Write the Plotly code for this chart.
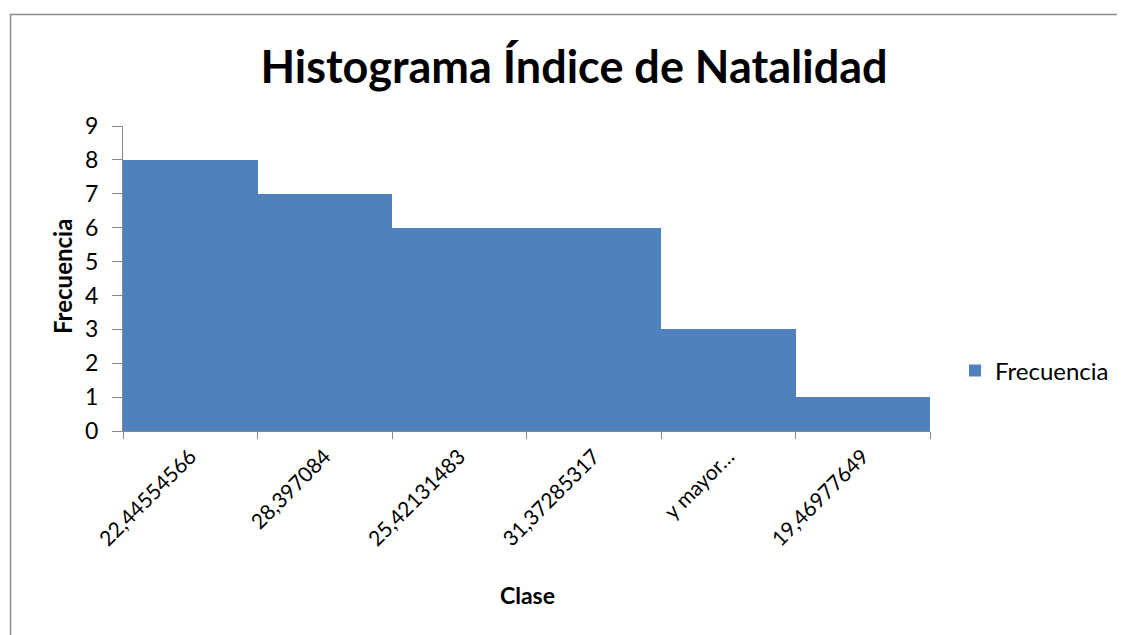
import plotly.graph_objects as go

categories = ["22,44554566", "28,397084", "25,42131483", "31,37285317", "y mayor…", "19,46977649"]
frecuencia = [8, 7, 6, 6, 3, 1]
y_ticks = [0, 1, 2, 3, 4, 5, 6, 7, 8, 9]

W, H = 1125, 635
OFF = 8  # page body margin in the browser
L, R, T, B = 123 - OFF, 930 - OFF, 126 - OFF, 431 - OFF
pw, ph = R - L, B - T

def px(x):
    return (x - OFF - L) / pw

def py(y):
    return (B - (y - OFF)) / ph

FONT = "Lato"
AX = "#878787"

fig = go.Figure()
fig.add_trace(go.Bar(
    x=categories, y=frecuencia, name="Frecuencia",
    marker=dict(color="#4F81BD", line=dict(width=0)),
    showlegend=True,
))

fig.update_layout(
    width=W, height=H,
    margin=dict(l=L, r=W - R, t=T, b=H - B),
    paper_bgcolor="white", plot_bgcolor="white",
    bargap=0,
    font=dict(family=FONT, size=23, color="black"),
    title=dict(text="<b>Histograma Índice de Natalidad</b>", x=px(574), xref="paper",
               xanchor="center", y=1 - (67 - OFF) / H, yanchor="middle",
               font=dict(family=FONT, size=45, color="black")),
    xaxis=dict(
        type="category", range=[-0.5, 5.5], showline=True, linecolor=AX, linewidth=1,
        ticks="outside", tickson="boundaries", ticklen=7, tickcolor=AX,
        tickangle=-45, showgrid=False, zeroline=False, ticklabelstandoff=4,
        tickfont=dict(family=FONT, size=21),
    ),
    yaxis=dict(
        range=[0, 9], tickvals=y_ticks, showline=True, linecolor=AX, linewidth=1,
        ticks="outside", ticklen=10, tickcolor=AX, showgrid=False, zeroline=False,
        ticklabelstandoff=9,
        tickfont=dict(family=FONT, size=23),
    ),
    legend=dict(x=px(955), y=py(371), xanchor="left", yanchor="middle",
                font=dict(family=FONT, size=24), bgcolor="rgba(0,0,0,0)"),
    annotations=[
        dict(text="<b>Clase</b>", xref="paper", yref="paper", x=px(527), y=py(595),
             xanchor="center", yanchor="middle", showarrow=False,
             font=dict(family=FONT, size=23)),
        dict(text="<b>Frecuencia</b>", xref="paper", yref="paper", x=px(62), y=py(277),
             xanchor="center", yanchor="middle", showarrow=False, textangle=-90,
             font=dict(family=FONT, size=24)),
    ],
    shapes=[dict(type="rect", xref="paper", yref="paper",
                 x0=px(10.5), x1=px(1300), y0=py(800), y1=py(14.5),
                 line=dict(color="#8a8a8a", width=1.5), fillcolor="rgba(0,0,0,0)", layer="below")],
)

fig.write_html("out.html")
